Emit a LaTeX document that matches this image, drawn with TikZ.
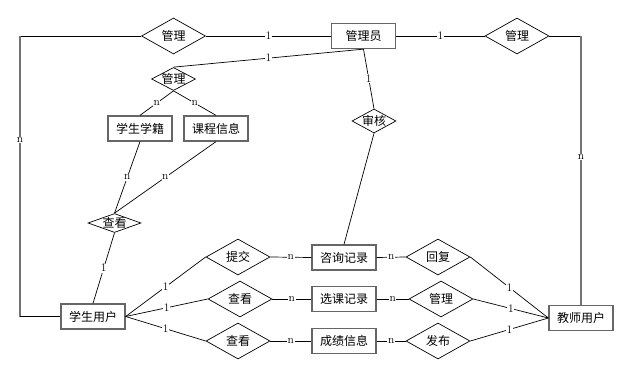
\documentclass[tikz,border=0pt]{standalone}
\usepackage{fontspec}
\newfontfamily\cjk{Noto Sans CJK SC}
\usetikzlibrary{shapes.geometric}
\tikzset{
  egyed/.style={draw=black!60,line width=1.3pt,fill=white,minimum width=64pt,
    minimum height=25pt,inner sep=0pt,font=\cjk\fontsize{12}{14}\selectfont},
  kapcs/.style={diamond,draw,line width=0.7pt,minimum width=64pt,minimum height=36pt,
    inner sep=0pt,font=\cjk\fontsize{12}{14}\selectfont},
  kiskapcs/.style={diamond,draw,line width=0.7pt,minimum width=44pt,minimum height=23pt,
    inner sep=0pt,label={[font=\cjk\fontsize{12}{14}\selectfont]center:#1}},
  el/.style={line width=0.7pt},
  hosszu/.style={draw=black!55,line width=1.4pt},
  szam/.style={fill=white,inner sep=0.6pt,font=\fontsize{11.5}{13}\selectfont},
}
\begin{document}
\begin{tikzpicture}[x=1pt,y=-1pt]
  \useasboundingbox (0,0) rectangle (643,369);
  % egyedek
  \node[egyed] (gly) at (363.5,36) {管理员};
  \node[egyed] (xj) at (140,128.5) {学生学籍};
  \node[egyed] (kc) at (216,128.5) {课程信息};
  \node[egyed] (xs) at (93,316.5) {学生用户};
  \node[egyed] (js) at (581,318) {教师用户};
  \node[egyed] (zx) at (344,257.5) {咨询记录};
  \node[egyed] (xk) at (344,299) {选课记录};
  \node[egyed] (cj) at (344,341) {成绩信息};
  % kapcsolatok
  \node[kapcs] (glA) at (173.5,36) {管理};
  \node[kapcs] (glB) at (517,36) {管理};
  \node[kiskapcs=管理] (glC) at (173.5,79) {};
  \node[kiskapcs=查看,minimum width=53pt,minimum height=19pt] (ckA) at (114.5,223) {};
  \node[kiskapcs=审核,minimum height=24pt] (sh) at (374,121) {};
  \node[kapcs] (tj) at (238,257) {提交};
  \node[kapcs] (ckB) at (240,299) {查看};
  \node[kapcs] (ckC) at (238,341) {查看};
  \node[kapcs] (hf) at (438,257) {回复};
  \node[kapcs] (glD) at (441,299) {管理};
  \node[kapcs] (fb) at (438,341) {发布};
  \coordinate (lk) at (20,316.5);
  % hosszu vonalak
  \draw[el] (glA.west) -- (20,36);
  \draw[hosszu] (20,36) -- node[szam,pos=0.37,text=black]{n} (lk);
  \draw[el] (lk) -- (xs.west);
  \draw[el] (glB.east) -- (js.north |- glB.east);
  \draw[hosszu] (js.north |- glB.east) -- node[szam,pos=0.45,text=black]{n} (js.north);
  % elek
  \draw[el] (glA.east) -- node[szam]{1} (gly.west);
  \draw[el] (gly.east) -- node[szam]{1} (glB.west);
  \draw[el] (glC.north) -- node[szam]{1} (gly.south);
  \draw[el] (glC.south) -- node[szam]{n} (xj.north);
  \draw[el] (glC.south) -- node[szam]{n} (kc.north);
  \draw[el] (xj.south) -- node[szam]{n} (ckA.north);
  \draw[el] (kc.south) -- node[szam]{n} (ckA.north);
  \draw[el] (ckA.south) -- node[szam]{1} (xs.north);
  \draw[el] (gly.south) -- node[szam]{1} (sh.north);
  \draw[el] (sh.south) -- (zx.north);
  \draw[el] (xs.east) -- node[szam]{1} (tj.west);
  \draw[el] (xs.east) -- node[szam]{1} (ckB.west);
  \draw[el] (xs.east) -- node[szam]{1} (ckC.west);
  \draw[el] (tj.east) -- node[szam]{n} (zx.west);
  \draw[el] (ckB.east) -- node[szam]{n} (xk.west);
  \draw[el] (ckC.east) -- node[szam]{n} (cj.west);
  \draw[el] (zx.east) -- node[szam]{n} (hf.west);
  \draw[el] (xk.east) -- node[szam]{n} (glD.west);
  \draw[el] (cj.east) -- node[szam]{n} (fb.west);
  \draw[el] (hf.east) -- node[szam]{1} (js.west);
  \draw[el] (glD.east) -- node[szam]{1} (js.west);
  \draw[el] (fb.east) -- node[szam]{1} (js.west);
\end{tikzpicture}
\end{document}
